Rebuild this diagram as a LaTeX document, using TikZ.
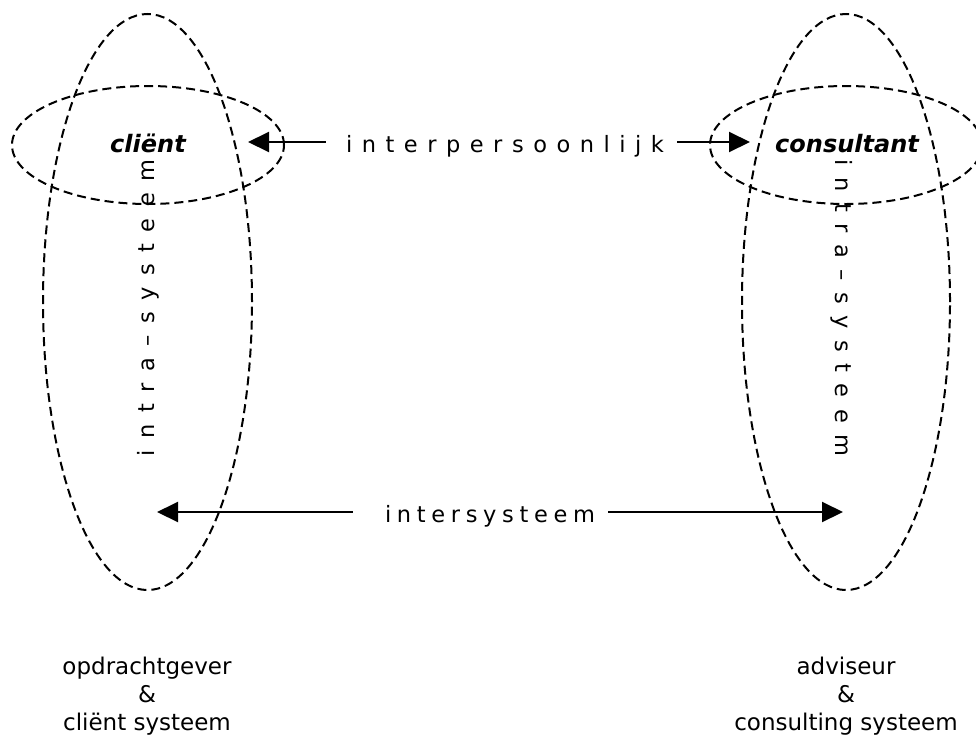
\documentclass[tikz,border=0pt]{standalone}
\usepackage{fontspec}
\setmainfont{DejaVu Sans}
\usetikzlibrary{shapes.geometric,arrows.meta}

\tikzset{
  zone/.style={ellipse, draw, line width=2pt, dash pattern=on 9pt off 5pt, inner sep=0pt},
  role/.style={font=\fontsize{24}{28}\selectfont\bfseries\itshape, inner sep=0pt, anchor=base},
  spaced/.style={font=\fontsize{22.5}{26}\selectfont, inner sep=0pt},
  caption/.style={font=\fontsize{23}{28}\selectfont, align=center, inner sep=0pt},
  arr/.style={line width=2pt, -{Triangle[length=21pt,width=20pt]}}
}

\begin{document}
\begin{tikzpicture}[x=1pt,y=-1pt]
  \useasboundingbox (0,0) rectangle (976,734);

  % systems (tall) and persons (wide)
  \node[zone, minimum width=209pt, minimum height=576pt] (sysL) at (147.5,302) {};
  \node[zone, minimum width=208pt, minimum height=576pt] (sysR) at (846,302) {};
  \node[zone, minimum width=272pt, minimum height=118pt] (perL) at (148,145) {};
  \node[zone, minimum width=272pt, minimum height=118pt] (perR) at (846,145) {};

  % roles
  \node[role] (client) at (148,152.5) {cliënt};
  \node[role] (consultant) at (847,152) {consultant};

  % interpersonal relation
  \node[spaced, anchor=base] (ip) at (505,152) {\makebox[318pt][s]{i n t e r p e r s o o n l i j k}};
  \coordinate (ipL) at (248,142);
  \coordinate (ipR) at (750,142);
  \draw[arr] ([xshift=-20pt]ip.west |- ipL) -- (ipL);
  \draw[arr] ([xshift=13pt]ip.east |- ipR) -- (ipR);

  % intersystem relation
  \node[spaced, anchor=base] (is) at (490,522) {\makebox[210pt][s]{i n t e r s y s t e e m}};
  \coordinate (isL) at (157,512);
  \coordinate (isR) at (843,512);
  \draw[arr] ([xshift=-32pt]is.west |- isL) -- (isL);
  \draw[arr] ([xshift=13pt]is.east |- isR) -- (isR);

  % intra-system labels
  \node[spaced, rotate=90] (intraL) at (148,308) {\makebox[297pt][s]{i n t r a – s y s t e e m}};
  \node[spaced, rotate=-90] (intraR) at (842,308) {\makebox[297pt][s]{i n t r a – s y s t e e m}};

  % captions
  \node[caption] (capL) at (147,696) {opdrachtgever\\\&\\cliënt systeem};
  \node[caption] (capR) at (846,696) {adviseur\\\&\\consulting systeem};
\end{tikzpicture}
\end{document}
